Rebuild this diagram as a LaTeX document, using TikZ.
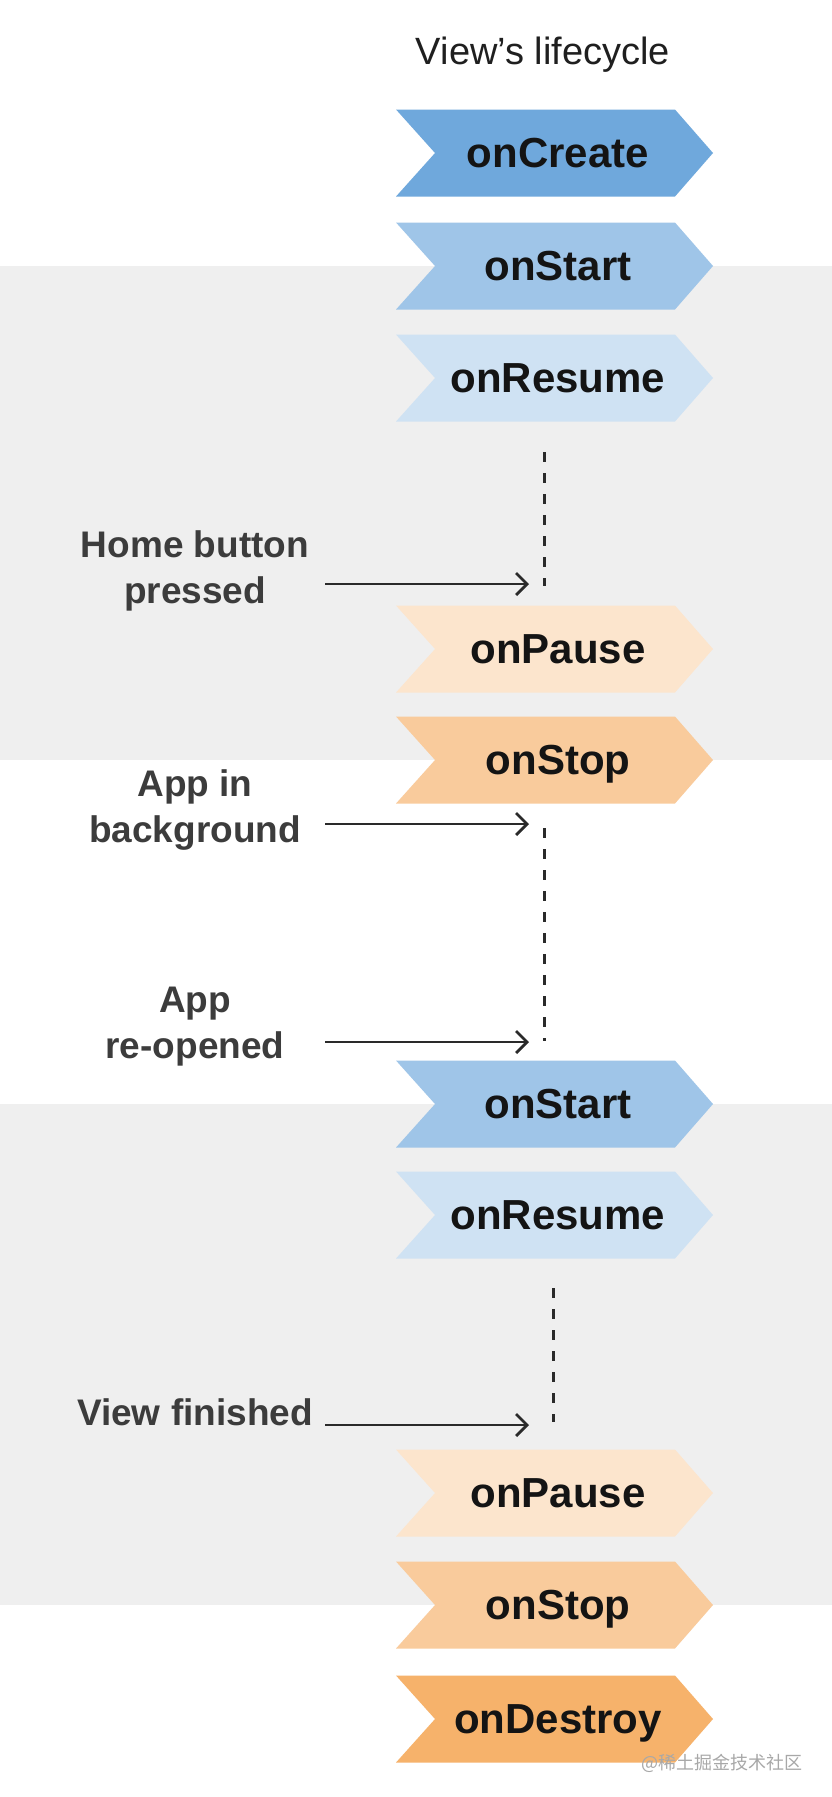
\documentclass[tikz,border=0pt]{standalone}
\usepackage{fontspec}
\setmainfont{Liberation Sans}
\newfontfamily\cjk{Noto Sans CJK SC}
\usetikzlibrary{arrows.meta,backgrounds,calc}
\definecolor{cCreate}{HTML}{6FA8DC}
\definecolor{cStart}{HTML}{9FC5E8}
\definecolor{cResume}{HTML}{CFE2F3}
\definecolor{cPause}{HTML}{FCE5CD}
\definecolor{cStop}{HTML}{F9CB9C}
\definecolor{cDestroy}{HTML}{F6B26B}
\definecolor{bandgray}{HTML}{EFEFEF}
\definecolor{labelgray}{HTML}{3C3C3C}
\definecolor{linegray}{HTML}{2A2A2A}
\definecolor{markgray}{HTML}{A8A8A8}
\newcommand\chevfill[2]{%
  \fill[#2] ($(#1.center)+(-162,-43.5)$) -- ($(#1.center)+(117,-43.5)$)
    -- ($(#1.center)+(155,0)$) -- ($(#1.center)+(117,43.5)$)
    -- ($(#1.center)+(-162,43.5)$) -- ($(#1.center)+(-123,0)$) -- cycle;}
\begin{document}
\begin{tikzpicture}[x=1pt,y=-1pt,
  stage/.style={inner sep=0pt, text height=34pt, text depth=6pt,
    font=\bfseries\fontsize{42}{48}\selectfont, text=black!92},
  lbl/.style={align=center, inner sep=0pt,
    font=\bfseries\fontsize{37}{46}\selectfont, text=labelgray},
  evt/.style={-{Straight Barb[length=11pt,width=22pt]}, line width=2.8pt, draw=linegray},
  wait/.style={dash pattern=on 10pt off 11pt, line width=3pt, draw=linegray}]
\useasboundingbox (0,0) rectangle (832,1797);

% title
\node[font=\fontsize{38}{44}\selectfont, text=black!88] (title) at (543,55) {View’s lifecycle};

% lifecycle stages
\node[stage] (create)   at (558,153)  {onCreate};
\node[stage] (start1)   at (558,266)  {onStart};
\node[stage] (resume1)  at (558,378)  {onResume};
\node[stage] (pause1)   at (558,649)  {onPause};
\node[stage] (stop1)    at (558,760)  {onStop};
\node[stage] (start2)   at (558,1104) {onStart};
\node[stage] (resume2)  at (558,1215) {onResume};
\node[stage] (pause2)   at (558,1493) {onPause};
\node[stage] (stop2)    at (558,1605) {onStop};
\node[stage] (destroy)  at (558,1719) {onDestroy};

% events
\node[lbl] (home)   at (195,571)  {Home button\\pressed};
\node[lbl] (bg)     at (195,810)  {App in\\background};
\node[lbl] (reopen) at (195,1027) {App\\re-opened};
\node[lbl] (finish) at (195,1412) {View finished};

\coordinate (h1) at (325,584);  \coordinate (h2) at (529,584);
\coordinate (b1) at (325,824);  \coordinate (b2) at (529,824);
\coordinate (r1) at (325,1042); \coordinate (r2) at (529,1042);
\coordinate (f1) at (325,1425); \coordinate (f2) at (529,1425);
\draw[evt] (h1) -- (h2);
\draw[evt] (b1) -- (b2);
\draw[evt] (r1) -- (r2);
\draw[evt] (f1) -- (f2);

\coordinate (w1a) at (544,452);  \coordinate (w1b) at (544,586);
\coordinate (w2a) at (544,828);  \coordinate (w2b) at (544,1041);
\coordinate (w3a) at (553,1288); \coordinate (w3b) at (553,1422);
\draw[wait] (w1a) -- (w1b);
\draw[wait] (w2a) -- (w2b);
\draw[wait] (w3a) -- (w3b);

% watermark
\node[font=\cjk\fontsize{18}{20}\selectfont, text=markgray, anchor=east] (mark) at (806,1763) {@稀土掘金技术社区};

\begin{scope}[on background layer]
  \fill[white] (0,0) rectangle (832,1797);
  \fill[bandgray] (0,266) rectangle (832,760);
  \fill[bandgray] (0,1104) rectangle (832,1605);
  \chevfill{create}{cCreate}
  \chevfill{start1}{cStart}
  \chevfill{resume1}{cResume}
  \chevfill{pause1}{cPause}
  \chevfill{stop1}{cStop}
  \chevfill{start2}{cStart}
  \chevfill{resume2}{cResume}
  \chevfill{pause2}{cPause}
  \chevfill{stop2}{cStop}
  \chevfill{destroy}{cDestroy}
\end{scope}
\end{tikzpicture}
\end{document}
